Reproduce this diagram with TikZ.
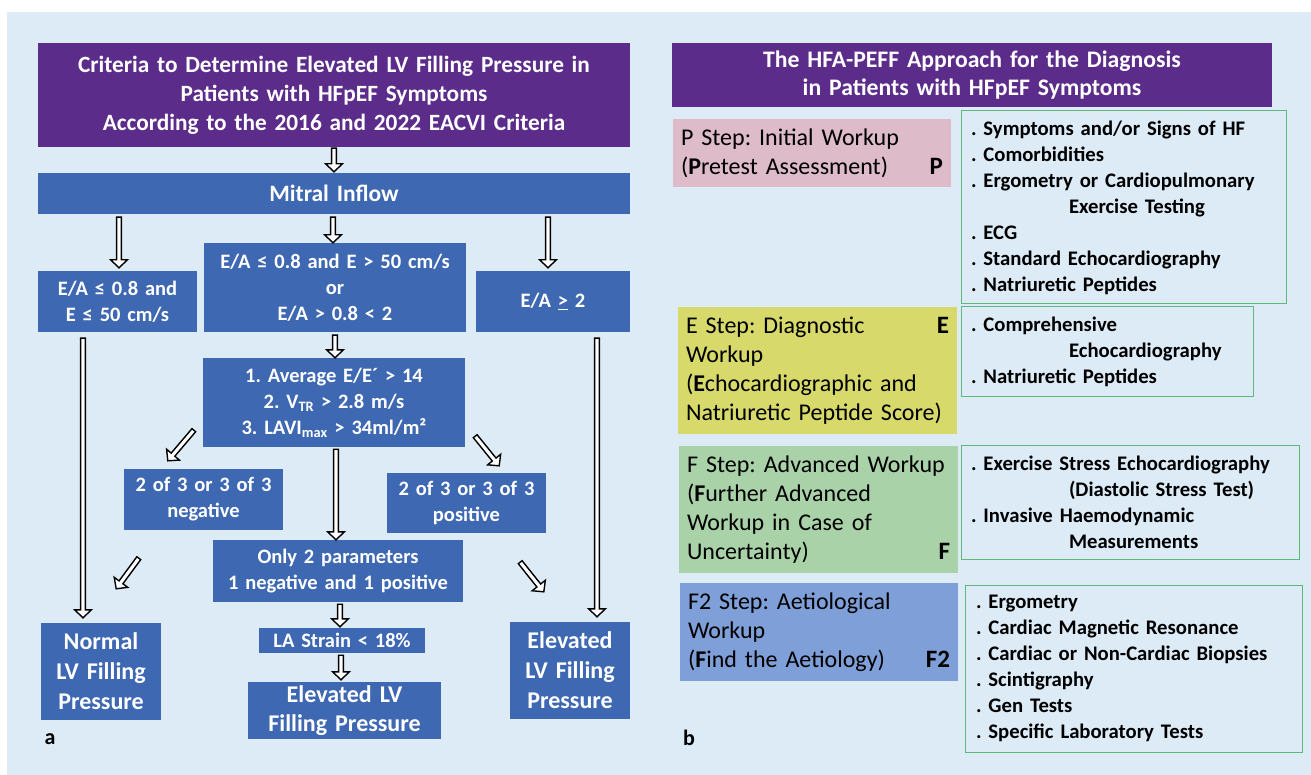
\documentclass[tikz,border=0pt]{standalone}
\usepackage{fontspec}
\setmainfont{Carlito}
\usetikzlibrary{positioning,calc}
\frenchspacing

\definecolor{bgblue}{HTML}{DDEBF7}
\definecolor{titlepurple}{HTML}{5B2C8A}
\definecolor{boxblue}{HTML}{3E68B2}
\definecolor{steppink}{HTML}{DDBBC9}
\definecolor{stepyellow}{HTML}{D7D96B}
\definecolor{stepgreen}{HTML}{A9D2A9}
\definecolor{stepblue}{HTML}{7F9FD8}
\definecolor{listgreen}{HTML}{5CB97A}

\newcommand{\fsz}[2]{\fontsize{#1}{#2}\selectfont}
\newcommand{\stepletter}[1]{\hskip 0pt plus 1filll{\bfseries\fsz{25}{29}#1}}
\newcommand{\indentline}{\hspace*{98pt}}

\tikzset{
	title/.style={fill=titlepurple, text=white, font=\bfseries\fsz{23.3}{29}, align=center, inner sep=0pt},
	bluebox/.style={fill=boxblue, text=white, font=\bfseries\fsz{20.5}{26}, align=center, inner sep=0pt},
	result/.style={bluebox, font=\bfseries\fsz{24}{30}},
	stepbox/.style={align=left, inner xsep=8pt, inner ysep=0pt, font=\fsz{24}{29}},
	listbox/.style={draw=listgreen, line width=1pt, align=left, inner xsep=10pt, inner ysep=0pt, font=\bfseries\fsz{20.7}{26}},
	hollowarrow/.style={draw=black, fill=white, line width=1.4pt, line join=miter,
		to path={let \p1=(\tikztostart), \p2=(\tikztotarget), \n1={atan2(\y2-\y1,\x2-\x1)}, \n2={veclen(\x2-\x1,\y2-\y1)} in
			($(\p1)+(\n1+90:2.4pt)$) -- ++(\n1:{\n2-8pt}) -- ++(\n1+90:6pt) -- (\p2)
			-- ($(\p1)+(\n1:{\n2-8pt})+(\n1-90:8.4pt)$) -- ++(\n1+90:6pt) -- ($(\p1)+(\n1-90:2.4pt)$) -- cycle}},
}

\begin{document}
\begin{tikzpicture}[x=1pt, y=1pt]
	\useasboundingbox (0,0) rectangle (1311,-775);
	\fill[white] (0,0) rectangle (1311,-775);
	\fill[bgblue] (7,-12) rectangle (1311,-775);

	% panel a
	\node[title, text width=592pt, minimum height=104pt] (crit) at (334,-95) {Criteria to Determine Elevated LV Filling Pressure in\\Patients with HFpEF Symptoms\\According to the 2016 and 2022 EACVI Criteria};
	\node[bluebox, font=\bfseries\fsz{23.5}{26}, text width=592pt, minimum height=41pt, below of=crit, node distance=98.5pt] (mitral) {Mitral Inflow};

	\node[bluebox, text width=262pt, minimum height=89pt] (eamid) at (335,-287.5) {E/A ≤ 0.8 and E > 50 cm/s\\or\\E/A > 0.8 < 2};
	\node[bluebox, text width=159pt, minimum height=61pt] (ealow) at (117.5,-301.5) {E/A ≤ 0.8 and\\E ≤ 50 cm/s};
	\node[bluebox, text width=154pt, minimum height=61pt] (eahigh) at (553,-301.5) {E/A \underline{>} 2};

	\node[bluebox, text width=262pt, minimum height=89pt, below of=eamid, node distance=115pt, xshift=-1pt] (params) {1. Average E/E´ > 14\\2. V\textsubscript{TR} > 2.8 m/s\\3. LAVI\textsubscript{max} > 34ml/m²};
	\node[bluebox, text width=159pt, minimum height=61pt] (neg) at (203.5,-499.5) {2 of 3 or 3 of 3\\negative};
	\node[bluebox, text width=159pt, minimum height=60pt] (pos) at (466.5,-503) {2 of 3 or 3 of 3\\positive};
	\node[bluebox, text width=250pt, minimum height=62pt] (only2) at (338,-571) {Only 2 parameters\\1 negative and 1 positive};
	\node[bluebox, text width=166pt, minimum height=25pt, below of=only2, node distance=69.5pt, xshift=4pt] (lastrain) {LA Strain < 18\%};

	\node[result, text width=120pt, minimum height=97pt] (normal) at (101,-671.5) {Normal\\LV Filling\\Pressure};
	\node[result, font=\bfseries\fsz{24}{29}, text width=193pt, minimum height=57pt, below of=lastrain, node distance=70pt, xshift=2.5pt] (elevmid) {Elevated LV\\Filling Pressure};
	\node[result, text width=120pt, minimum height=97pt] (elevright) at (570,-670.5) {Elevated\\LV Filling\\Pressure};

	\node[font=\bfseries\fsz{22}{24}] (labela) at (50,-739) {a};

	\draw[hollowarrow] ([yshift=-1pt]crit.south) to ([yshift=1pt]mitral.north);
	\draw[hollowarrow] ([shift={(-215pt,-3pt)}]mitral.south) to ([shift={(1.5pt,3pt)}]ealow.north);
	\draw[hollowarrow] ([shift={(-1pt,-3pt)}]mitral.south) to ([xshift=-2pt]eamid.north);
	\draw[hollowarrow] ([shift={(214pt,-3pt)}]mitral.south) to ([shift={(-5pt,3pt)}]eahigh.north);
	\draw[hollowarrow] ([yshift=-3pt]eamid.south) to ([xshift=1pt]params.north);

	\draw[hollowarrow] ([shift={(-34.5pt,-6pt)}]ealow.south) to ([shift={(-18pt,5pt)}]normal.north);
	\draw[hollowarrow] ([shift={(44pt,-6pt)}]eahigh.south) to ([shift={(27pt,5pt)}]elevright.north);

	\draw[hollowarrow] ([shift={(-9pt,17pt)}]params.south west) to ([shift={(44pt,8pt)}]neg.north west);
	\draw[hollowarrow] ([shift={(10pt,11pt)}]params.south east) to ([shift={(-47pt,7pt)}]pos.north east);
	\draw[hollowarrow] ([shift={(2pt,-2pt)}]params.south) to ([xshift=-2pt]only2.north);
	\draw[hollowarrow] ([shift={(15pt,-28pt)}]neg.south west) to ([shift={(-45pt,34pt)}]normal.north east);
	\draw[hollowarrow] ([shift={(-26pt,-29pt)}]pos.south east) to ([shift={(34pt,30pt)}]elevright.north west);
	\draw[hollowarrow] ([shift={(2pt,-2pt)}]only2.south) to ([shift={(-2pt,1pt)}]lastrain.north);
	\draw[hollowarrow] ([shift={(-1pt,-2pt)}]lastrain.south) to ([shift={(-3.5pt,2pt)}]elevmid.north);

	% panel b
	\node[title, text width=600pt, minimum height=64pt, font=\bfseries\fsz{23.7}{28}] (hfa) at (972,-75) {The HFA-PEFF Approach for the Diagnosis\\in Patients with HFpEF Symptoms};

	\node[stepbox, fill=steppink, text width=262pt, minimum height=68pt] (pstep) at (812,-153) {P Step: Initial Workup\\(\textbf{P}retest Assessment)\stepletter{P}};
	\node[stepbox, fill=stepyellow, text width=263pt, minimum height=127pt] (estep) at (817.5,-370.5) {E Step: Diagnostic\stepletter{E}\\Workup\\(\textbf{E}chocardiographic and\\Natriuretic Peptide Score)};
	\node[stepbox, fill=stepgreen, text width=263pt, minimum height=127pt] (fstep) at (818.5,-509.5) {F Step: Advanced Workup\\(\textbf{F}urther Advanced\\Workup in Case of\\Uncertainty)\stepletter{F}};
	\node[stepbox, fill=stepblue, text width=262pt, minimum height=98pt] (f2step) at (819,-632) {F2 Step: Aetiological\\Workup\\(\textbf{F}ind the Aetiology)\stepletter{F2}};

	\node[listbox, text width=305pt, minimum height=193pt] (plist) at (1123.5,-207.5) {. Symptoms and/or Signs of HF\\. Comorbidities\\. Ergometry or Cardiopulmonary\\\indentline Exercise Testing\\. ECG\\. Standard Echocardiography\\. Natriuretic Peptides};
	\node[listbox, text width=272pt, minimum height=89pt] (elist) at (1107,-351.5) {. Comprehensive\\\indentline Echocardiography\\. Natriuretic Peptides};
	\node[listbox, text width=318pt, minimum height=114pt] (flist) at (1130,-502) {. Exercise Stress Echocardiography\\\indentline(Diastolic Stress Test)\\. Invasive Haemodynamic\\\indentline Measurements};
	\node[listbox, text width=315pt, minimum height=167pt, inner xsep=11pt] (f2list) at (1133.5,-668.5) {. Ergometry\\. Cardiac Magnetic Resonance\\. Cardiac or Non-Cardiac Biopsies\\. Scintigraphy\\. Gen Tests\\. Specific Laboratory Tests};

	\node[font=\bfseries\fsz{22}{24}] (labelb) at (689,-738) {b};
\end{tikzpicture}
\end{document}
